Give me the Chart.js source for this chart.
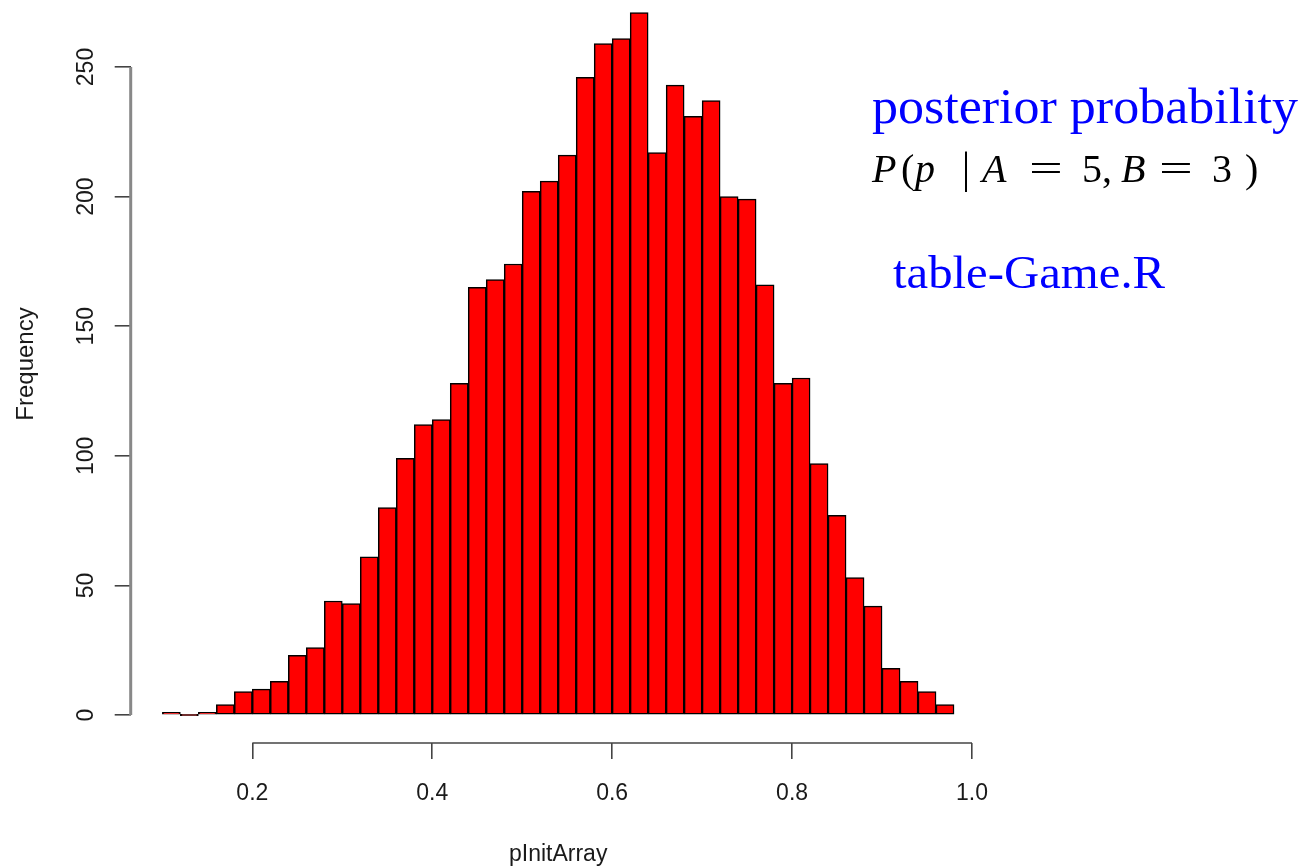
<!DOCTYPE html>
<html>
<head>
<meta charset="utf-8">
<title>pInitArray histogram</title>
<script src="https://cdn.jsdelivr.net/npm/chart.js@4.4.1/dist/chart.umd.min.js"></script>
<style>
  html, body { margin: 0; padding: 0; background: #fff; overflow: hidden; }
  #wrap { position: relative; width: 1309px; height: 867px; }
  #hist { position: absolute; left: 0; top: 0; }
  .note {
    position: absolute;
    font-family: "Liberation Serif", "DejaVu Serif", serif;
    line-height: 1;
    white-space: nowrap;
    transform-origin: 0 0;
  }
  .blue { color: #0000ff; }
  .math { color: #000; font-size: 40px; left: 0; top: 149px; width: 1309px; height: 50px; }
  .math span { position: absolute; top: 0; }
  .math .eq { transform: scaleX(1.5); transform-origin: 0 0; }
  .math .bar { transform: scaleY(1.1); transform-origin: 0 60%; }
</style>
</head>
<body>
<div id="wrap">
  <canvas id="hist" width="1309" height="867"></canvas>
  <div class="note blue" style="left:872px; top:81px; font-size:50px; transform:scaleX(1.04);">posterior probability</div>
  <div class="note math"><span style="left:872px"><i>P</i></span><span style="left:901px">(</span><span style="left:915px"><i>p</i></span><span class="bar" style="left:962px">|</span><span style="left:982px"><i>A</i></span><span class="eq" style="left:1029px">=</span><span style="left:1082px">5</span><span style="left:1102px">,</span><span style="left:1121px"><i>B</i></span><span class="eq" style="left:1159px">=</span><span style="left:1212px">3</span><span style="left:1245px">)</span></div>
  <div class="note blue" style="left:893px; top:250px; font-size:46px; transform:scaleX(1.06);">table-Game.R</div>
</div>
<script>
// histogram bins: left edge of each bin, width 0.02
const binStarts = [0.10, 0.12, 0.14, 0.16, 0.18, 0.20, 0.22, 0.24, 0.26, 0.28,
                   0.30, 0.32, 0.34, 0.36, 0.38, 0.40, 0.42, 0.44, 0.46, 0.48,
                   0.50, 0.52, 0.54, 0.56, 0.58, 0.60, 0.62, 0.64, 0.66, 0.68,
                   0.70, 0.72, 0.74, 0.76, 0.78, 0.80, 0.82, 0.84, 0.86, 0.88,
                   0.90, 0.92, 0.94, 0.96];
const binWidth = 0.02;
const counts = [1, 0, 1, 4, 9, 10, 13, 23, 26, 44,
                43, 61, 80, 99, 112, 114, 128, 165, 168, 174,
                202, 206, 216, 246, 259, 261, 271, 217, 243, 231,
                237, 200, 199, 166, 128, 130, 97, 77, 53, 42,
                18, 13, 9, 4];

const xTicks = [0.2, 0.4, 0.6, 0.8, 1.0];
const yTicks = [0, 50, 100, 150, 200, 250];
const xTitle = 'pInitArray';
const yTitle = 'Frequency';

// R-style plot limits (range of breaks / counts padded by 4%)
const xMin = 0.0648, xMax = 1.0152;
const yMin = -10.8, yMax = 275.85;

Chart.defaults.font.family = '"Liberation Sans", Arial, sans-serif';

// axis lines only span the first..last tick, labels on y are rotated
const rAxes = {
  id: 'rAxes',
  afterDraw(chart) {
    const { ctx, chartArea, scales } = chart;
    const x = scales.x, y = scales.y;
    ctx.save();

    ctx.strokeStyle = '#888';
    ctx.lineWidth = 3;
    ctx.beginPath();
    ctx.moveTo(chartArea.left, y.getPixelForValue(yTicks[0]));
    ctx.lineTo(chartArea.left, y.getPixelForValue(yTicks[yTicks.length - 1]));
    ctx.stroke();

    ctx.strokeStyle = '#444';
    ctx.lineWidth = 1.6;
    ctx.beginPath();
    ctx.moveTo(x.getPixelForValue(xTicks[0]), chartArea.bottom);
    ctx.lineTo(x.getPixelForValue(xTicks[xTicks.length - 1]), chartArea.bottom);
    ctx.stroke();

    ctx.fillStyle = '#1a1a1a';
    ctx.textAlign = 'center';
    ctx.textBaseline = 'alphabetic';
    ctx.font = '23px "Liberation Sans", Arial, sans-serif';
    yTicks.forEach(v => {
      ctx.save();
      ctx.translate(93, y.getPixelForValue(v));
      ctx.rotate(-Math.PI / 2);
      ctx.fillText(String(v), 0, 0);
      ctx.restore();
    });

    ctx.font = '24px "Liberation Sans", Arial, sans-serif';
    ctx.translate(33, 364);
    ctx.rotate(-Math.PI / 2);
    ctx.fillText(yTitle, 0, 0);
    ctx.restore();
  }
};

new Chart(document.getElementById('hist'), {
  type: 'bar',
  data: {
    datasets: [{
      data: binStarts.map((s, i) => ({ x: s + binWidth / 2, y: counts[i] })),
      backgroundColor: '#ff0000',
      borderColor: '#000',
      borderWidth: 1.5,
      borderSkipped: false,
      minBarLength: 1.5,
      barPercentage: 1,
      categoryPercentage: 1
    }]
  },
  options: {
    responsive: false,
    animation: false,
    devicePixelRatio: 1,
    layout: { padding: { left: 0, right: 323.3, top: 0, bottom: 0 } },
    plugins: { legend: { display: false }, tooltip: { enabled: false } },
    scales: {
      x: {
        type: 'linear',
        min: xMin,
        max: xMax,
        offset: false,
        afterBuildTicks: s => { s.ticks = xTicks.map(v => ({ value: v })); },
        afterFit: s => { s.height = 124; },
        grid: { drawOnChartArea: false, drawTicks: true, tickLength: 16, color: '#444', lineWidth: 1.6, offset: false },
        border: { display: false },
        ticks: {
          color: '#1a1a1a',
          font: { size: 23 },
          padding: 21,
          maxRotation: 0,
          autoSkip: false,
          callback: v => v.toFixed(1)
        },
        title: {
          display: true,
          text: xTitle,
          color: '#1a1a1a',
          font: { size: 23, lineHeight: 1 },
          padding: { top: 0, bottom: 0.5 }
        }
      },
      y: {
        min: yMin,
        max: yMax,
        afterBuildTicks: s => { s.ticks = yTicks.map(v => ({ value: v })); },
        afterFit: s => { s.width = 130.7; },
        grid: { drawOnChartArea: false, drawTicks: true, tickLength: 16, color: '#444', lineWidth: 1.6 },
        border: { display: false },
        ticks: { display: false }
      }
    }
  },
  plugins: [rAxes]
});
</script>
</body>
</html>
